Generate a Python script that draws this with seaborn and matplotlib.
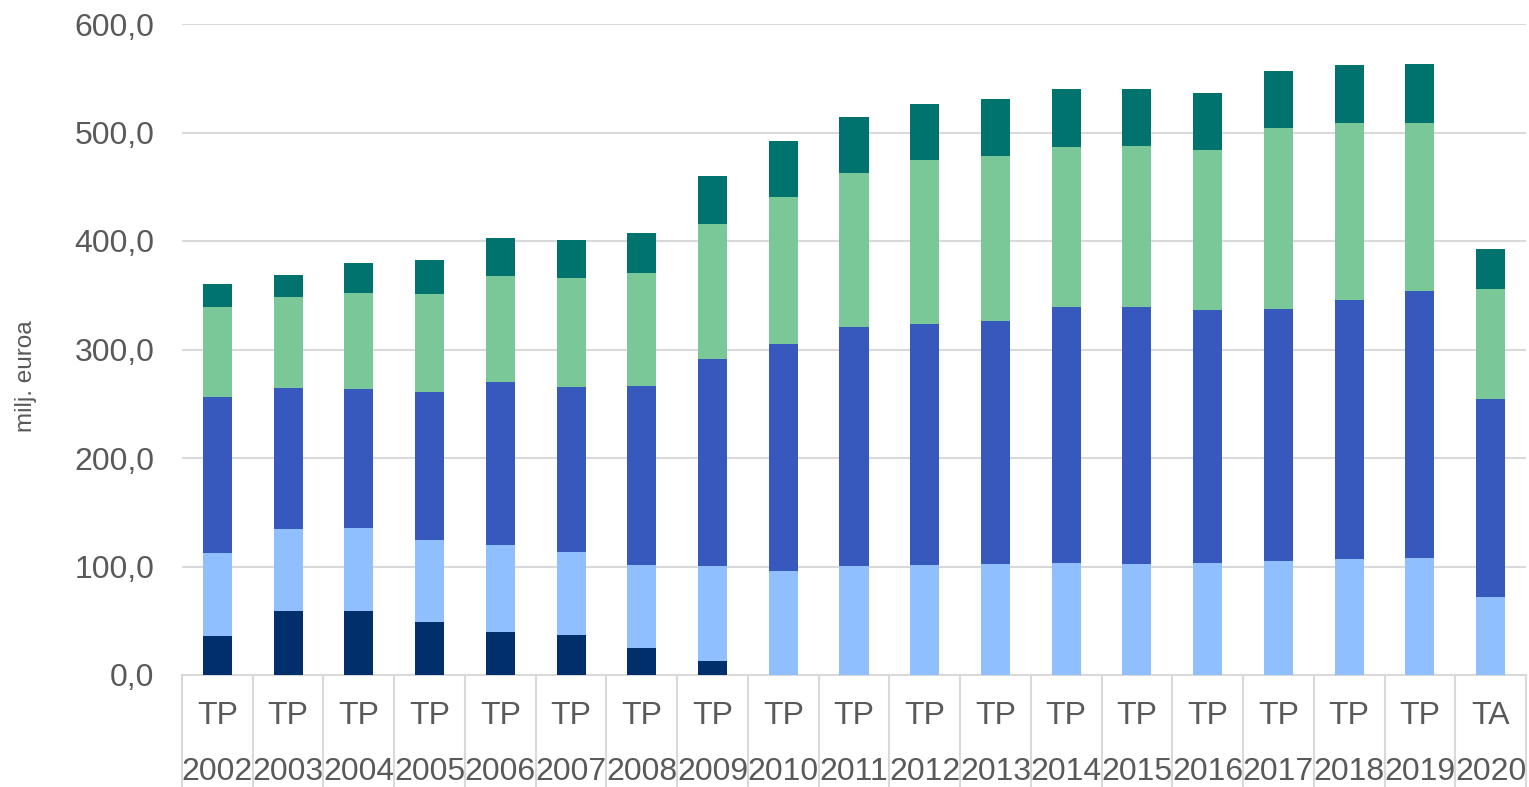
import numpy as np
import pandas as pd
import matplotlib
matplotlib.use('Agg')
import matplotlib.pyplot as plt
import matplotlib.transforms as mtransforms
import seaborn as sns

# categories (two-line labels like in the original sheet)
years = ['2002', '2003', '2004', '2005', '2006', '2007', '2008', '2009', '2010',
         '2011', '2012', '2013', '2014', '2015', '2016', '2017', '2018', '2019', '2020']
prefixes = ['TP'] * 18 + ['TA']

# stacked series, bottom to top (milj. euroa)
s1 = [36.0, 59.0, 59.0, 49.0, 40.0, 37.0, 25.0, 13.0, 0, 0, 0, 0, 0, 0, 0, 0, 0, 0, 0]
s2 = [76.5, 75.5, 76.5, 75.5, 80.0, 76.5, 76.5, 87.5, 96.0, 100.5, 101.5, 102.5, 103.0,
      102.5, 103.0, 105.0, 107.0, 108.0, 72.0]
s3 = [144.0, 130.0, 128.0, 136.5, 150.0, 152.0, 165.0, 190.5, 209.0, 220.0, 222.0, 224.0,
      236.0, 236.5, 233.5, 232.5, 238.5, 246.0, 182.5]
s4 = [83.0, 83.5, 88.5, 90.0, 97.5, 100.5, 104.0, 124.5, 135.5, 142.0, 151.0, 152.0, 147.5,
      148.5, 147.5, 166.5, 163.0, 155.0, 101.5]
s5 = [20.5, 20.5, 28.0, 31.5, 35.0, 35.0, 37.0, 44.5, 51.5, 51.5, 51.5, 52.5, 53.5,
      52.5, 52.5, 52.5, 53.5, 54.5, 37.0]

colors = ['#002F6C', '#8FBFFF', '#3759BD', '#7AC797', '#00736F']

labels = [p + '\n' + y for p, y in zip(prefixes, years)]
df = pd.DataFrame({'cat': labels, 's1': s1, 's2': s2, 's3': s3, 's4': s4, 's5': s5})

sns.set_style('white')
plt.rcParams['font.family'] = ['Liberation Sans', 'DejaVu Sans']

fig = plt.figure(figsize=(15.29, 7.87), dpi=100)
ax = fig.add_axes([182 / 1529, 112 / 787, 1344 / 1529, 651 / 787])

bottom = np.zeros(len(df))
for col, c in zip(['s1', 's2', 's3', 's4', 's5'], colors):
    sns.barplot(data=df, x='cat', y=col, bottom=bottom, color=c, width=0.41,
                linewidth=0, saturation=1, ax=ax, zorder=3)
    bottom = bottom + df[col].values

ax.set_ylim(0, 600)
ax.set_xlim(-0.5, len(df) - 0.5)
ax.set_yticks(np.arange(0, 601, 100))
ax.set_yticklabels([f'{v:.1f}'.replace('.', ',') for v in np.arange(0, 601, 100)],
                   fontsize=23, color='#595959')
ax.yaxis.grid(True, color='#D9D9D9', linewidth=1.5, zorder=0)
ax.tick_params(axis='y', length=0, pad=20)
ax.tick_params(axis='x', length=0, pad=19)
for lab in ax.get_xticklabels():
    lab.set_fontsize(23)
    lab.set_color('#595959')
    lab.set_linespacing(2.1)

for side in ['top', 'right', 'left']:
    ax.spines[side].set_visible(False)
ax.spines['bottom'].set_color('#D9D9D9')
ax.spines['bottom'].set_linewidth(1.5)

# category separators under the axis
trans = mtransforms.blended_transform_factory(ax.transData, ax.transAxes)
for i in range(len(df) + 1):
    ax.plot([i - 0.5, i - 0.5], [0, -0.175], transform=trans, color='#D9D9D9',
            linewidth=1.5, clip_on=False)

ax.set_xlabel('')
ax.set_ylabel('milj. euroa', fontsize=17.5, color='#595959')
ax.yaxis.set_label_coords(-145 / 1344, 0.459)

fig.savefig('out.png', dpi=100)
